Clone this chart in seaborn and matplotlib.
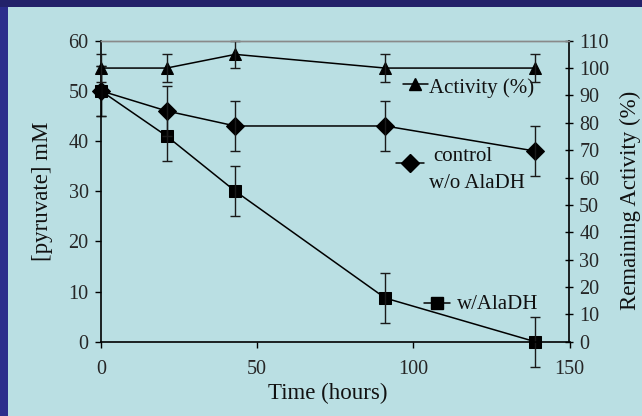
#!/usr/bin/env python3
"""Pyruvate consumption and remaining AlaDH activity over time."""

import matplotlib
matplotlib.use("Agg")
import matplotlib.pyplot as plt
from matplotlib.patches import Rectangle
import seaborn as sns

# Data
hours = [0, 21, 43, 91, 139]
with_aladh = [50, 41, 30, 8.7, 0]          # [pyruvate] mM, squares
with_aladh_err = [5, 5, 5, 5, 5]
control = [50, 46, 43, 43, 38]             # [pyruvate] mM, diamonds
control_err = [5, 5, 5, 5, 5]
activity = [100, 100, 105, 100, 100]       # remaining activity %, triangles
activity_err = [5, 5, 5, 5, 5]

x_ticks = [0, 50, 100, 150]
left_ticks = list(range(0, 61, 10))
right_ticks = list(range(0, 111, 10))

# Style
sns.set_style("ticks")
plt.rcParams["font.family"] = ["Liberation Serif", "DejaVu Serif"]
plt.rcParams["text.color"] = "#111111"
BG_PANEL = "#BADFE3"
BG_FRAME = "#23226A"
INK = "#000000"
ERR = "#1a1a1a"

fig = plt.figure(figsize=(6.42, 4.16), dpi=100, facecolor=BG_FRAME)
# light slide panel
fig.patches.append(Rectangle((8 / 642, 0), 1, 1 - 7 / 416, transform=fig.transFigure,
                             facecolor=BG_PANEL, edgecolor="none", zorder=0))
fig.patches.append(Rectangle((0, 0), 8 / 642, 1 - 7 / 416, transform=fig.transFigure,
                             facecolor="#2C2D8C", edgecolor="none", zorder=0))

ax = fig.add_axes([101 / 642, 1 - 341.7 / 416, 468.5 / 642, 301 / 416])
ax.set_facecolor(BG_PANEL)
ax2 = ax.twinx()
ax2.patch.set_visible(False)
ax.set_zorder(1)
ax2.set_zorder(2)

line_kw = dict(color=INK, linewidth=1.1, markeredgecolor=INK, markerfacecolor=INK)
err_kw = dict(fmt="none", ecolor=ERR, elinewidth=1.0, capsize=3.3, capthick=1.0)

# w/AlaDH (squares)
sns.lineplot(x=hours, y=with_aladh, marker="s", markersize=8.5, ax=ax, **line_kw)
ebs = ax.errorbar(hours, with_aladh, yerr=with_aladh_err, **err_kw)
# control (diamonds)
sns.lineplot(x=hours, y=control, marker="D", markersize=8.8, ax=ax, **line_kw)
ebc = ax.errorbar(hours, control, yerr=control_err, **err_kw)
# activity (triangles) on the right axis
sns.lineplot(x=hours, y=activity, marker="^", markersize=9, ax=ax2, **line_kw)
eba = ax2.errorbar(hours, activity, yerr=activity_err, **err_kw)

for container in (ebs, ebc, eba):
    for art in container.get_children():
        art.set_clip_on(False)
for a in (ax, ax2):
    for ln in a.lines:
        ln.set_clip_on(False)

# Axes limits / ticks
ax.set_xlim(0, 150)
ax.set_ylim(0, 60)
ax2.set_ylim(0, 110)
ax.set_xticks(x_ticks)
ax.set_yticks(left_ticks)
ax2.set_yticks(right_ticks)
ax.set_xlabel("")
ax.set_ylabel("")
ax2.set_ylabel("")

ax.tick_params(axis="both", direction="out", length=4, width=1, color=INK,
               labelsize=14.5, pad=5)
ax.tick_params(axis="x", pad=9)
ax2.tick_params(axis="y", direction="inout", length=6, width=1, color=INK,
                labelsize=14.5, pad=4)

for a in (ax, ax2):
    for side in ("left", "bottom", "right"):
        a.spines[side].set_color(INK)
        a.spines[side].set_linewidth(1.2)
    a.spines["top"].set_visible(True)
    a.spines["top"].set_color("#8a8a8a")
    a.spines["top"].set_linewidth(1.0)
ax.spines["right"].set_visible(False)
ax2.spines["left"].set_visible(False)
ax2.spines["bottom"].set_visible(False)

# In-plot legend entries
tr = ax.transAxes
ax.plot([0.645, 0.671, 0.698], [0.856] * 3, transform=tr, marker="^", markevery=[1],
        markersize=9, **line_kw)
ax.text(0.700, 0.843, "Activity (%)", transform=tr, fontsize=15, va="center", ha="left")

ax.plot([0.630, 0.660, 0.689], [0.593] * 3, transform=tr, marker="D", markevery=[1],
        markersize=8.8, **line_kw)
ax.text(0.709, 0.614, "control", transform=tr, fontsize=15, va="center", ha="left")
ax.text(0.700, 0.527, "w/o AlaDH", transform=tr, fontsize=15, va="center", ha="left")

ax.plot([0.689, 0.717, 0.745], [0.129] * 3, transform=tr, marker="s", markevery=[1],
        markersize=8.5, **line_kw)
ax.text(0.760, 0.122, "w/AlaDH", transform=tr, fontsize=15, va="center", ha="left")

# Axis titles
fig.text(43 / 642, 1 - 191 / 416, "[pyruvate] mM", rotation=90, fontsize=16.5,
         ha="center", va="center")
fig.text(328 / 642, 1 - 393 / 416, "Time (hours)", fontsize=16.5, ha="center", va="center")
fig.text(630 / 642, 1 - 200 / 416, "Remaining Activity (%)", rotation=90, fontsize=16.5,
         ha="center", va="center")

fig.savefig("out.png", dpi=100, facecolor=fig.get_facecolor())
print("Saved: out.png")
